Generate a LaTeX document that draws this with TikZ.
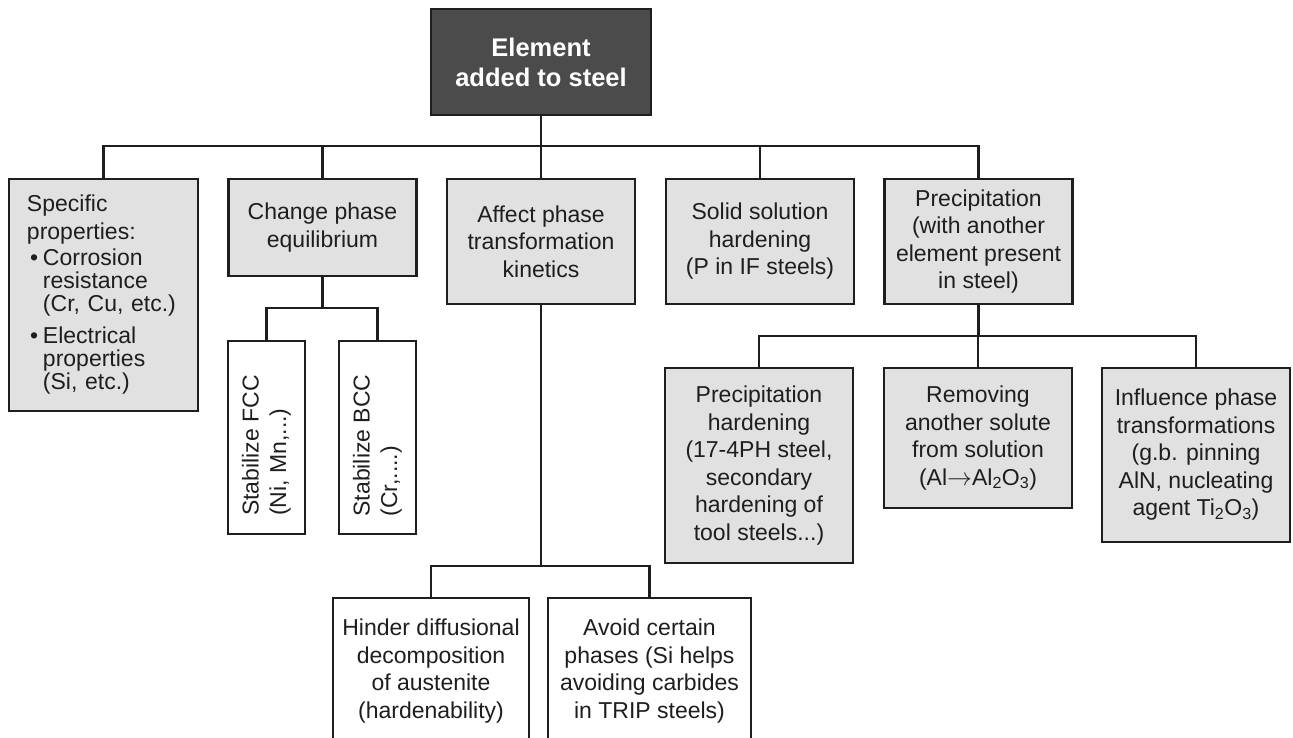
\documentclass[tikz,border=0pt]{standalone}
\usepackage{fontspec}
\setmainfont{Liberation Sans}
\usetikzlibrary{positioning, calc}
\definecolor{ink}{HTML}{1E1E1E}
\definecolor{rootfill}{HTML}{4B4B4B}
\definecolor{boxfill}{HTML}{E1E1E1}
\newcommand{\bul}{\hspace*{3pt}\makebox[13pt][l]{\textbullet}}
\newcommand{\ind}{\hspace*{16pt}}

\begin{document}
\begin{tikzpicture}[x=1pt, y=-1pt,
    base/.style={draw=ink, line width=2.4pt, inner sep=0pt, align=center,
                 text=ink, font=\fontsize{23}{27.5}\selectfont},
    rootbox/.style={base, fill=rootfill, text=white, minimum width=220pt,
                    minimum height=106pt, font=\fontsize{25.5}{30}\selectfont\bfseries},
    graybox/.style={base, fill=boxfill, minimum width=188pt},
    whitebox/.style={base, fill=white},
    link/.style={draw=ink, line width=2.4pt}
  ]
  \useasboundingbox (0,0) rectangle (1293,738);

  \node[rootbox] (root) at (541,62) {Element\\added to steel};

  % first row
  \node[graybox, minimum width=189pt, minimum height=232pt, text width=153pt,
        inner xsep=18pt, align=left, font=\fontsize{23}{23}\selectfont]
    (spec) at (103.5,295) {Specific\\[5pt]properties:\\[3pt]\bul Corrosion\\\ind resistance\\\ind (Cr, Cu, etc.)\\[9pt]\bul Electrical\\\ind properties\\\ind (Si, etc.)};
  \node[graybox, minimum height=97pt] (chg) at (322.5,227.5) {Change phase\\equilibrium};
  \node[graybox, minimum height=125pt] (aff) at (541,241.5) {Affect phase\\transformation\\kinetics};
  \node[graybox, minimum height=125pt] (sol) at (760,241.5) {Solid solution\\hardening\\(P in IF steels)};
  \node[graybox, minimum height=125pt] (prec) at (978.5,241.5) {Precipitation\\(with another\\element present\\in steel)};

  % under phase equilibrium
  \node[whitebox, rotate=90, minimum width=193pt, minimum height=77pt, align=left]
    (fcc) at (266.5,437.5) {Stabilize FCC\hspace*{16pt}\\(Ni, Mn,...)};
  \node[whitebox, rotate=90, minimum width=193pt, minimum height=77pt, align=left]
    (bcc) at (377.5,437.5) {Stabilize BCC\hspace*{16pt}\\(Cr,....)};

  % under kinetics
  \node[whitebox, minimum width=196pt, minimum height=146pt] (hind) at (431,671) {Hinder diffusional\\decomposition\\of austenite\\(hardenability)};
  \node[whitebox, minimum width=203pt, minimum height=146pt] (avoid) at (649.5,671) {Avoid certain\\phases (Si helps\\avoiding carbides\\in TRIP steels)};

  % under precipitation
  \node[graybox, minimum height=195pt] (ph) at (759,465.5) {Precipitation\\hardening\\(17-4PH steel,\\secondary\\hardening of\\tool steels...)};
  \node[graybox, minimum height=140pt] (rem) at (978,438) {Removing\\another solute\\from solution\\(Al$\rightarrow$Al\textsubscript{2}O\textsubscript{3})};
  \node[graybox, minimum height=174pt] (infl) at (1196,455) {Influence phase\\transformations\\(g.b. pinning\\AlN, nucleating\\agent Ti\textsubscript{2}O\textsubscript{3})};

  % connectors
  \coordinate (bus) at (541,146);
  \draw[link] (root.south) -- (bus);
  \draw[link] (spec.north) |- (bus) -| (prec.north);
  \draw[link] (chg.north) -- (chg.north |- bus);
  \draw[link] (aff.north) -- (bus);
  \draw[link] (sol.north) -- (sol.north |- bus);

  \coordinate (chgbus) at (322.5,308);
  \draw[link] (chg.south) -- (chgbus);
  \draw[link] (fcc.east) |- (chgbus) -| (bcc.east);

  \coordinate (affbus) at (541,566);
  \draw[link] (aff.south) -- (affbus);
  \draw[link] (hind.north) |- (affbus) -| (avoid.north);

  \coordinate (precbus) at (978.5,336);
  \draw[link] (prec.south) -- (precbus);
  \draw[link] (ph.north) |- (precbus) -| (infl.north);
  \draw[link] (rem.north) -- (rem.north |- precbus);
\end{tikzpicture}
\end{document}
